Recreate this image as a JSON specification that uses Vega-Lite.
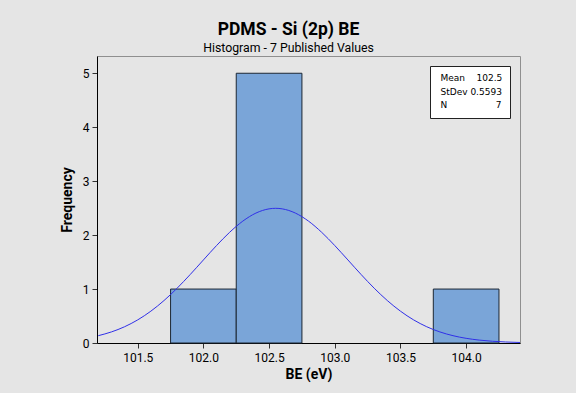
{
  "$schema": "https://vega.github.io/schema/vega-lite/v6.json",
  "width": 423,
  "height": 287,
  "autosize": {"type": "none"},
  "padding": {"left": 97, "top": 56, "right": 56, "bottom": 50},
  "background": "#e5e5e5",
  "title": {
    "text": "PDMS - Si (2p) BE",
    "subtitle": "Histogram - 7 Published Values",
    "anchor": "middle",
    "frame": "group",
    "dx": -20,
    "offset": 2,
    "font": "Roboto",
    "fontSize": 17.5,
    "fontWeight": "bold",
    "color": "#000000",
    "subtitleFont": "Roboto",
    "subtitleFontSize": 12.3,
    "subtitleColor": "#000000",
    "subtitlePadding": 3
  },
  "config": {
    "view": {"fill": "#ffffff", "stroke": "#8f8f8f", "strokeWidth": 1},
    "axis": {
      "domainColor": "#000000",
      "tickColor": "#333333",
      "tickSize": 5,
      "labelFont": "Roboto",
      "labelFontSize": 12,
      "labelColor": "#000000",
      "titleFont": "Roboto",
      "titleFontSize": 14,
      "titleFontWeight": "bold",
      "titleColor": "#000000",
      "grid": false
    },
    "legend": {
      "labelFont": "DejaVu Sans",
      "labelFontSize": 9,
      "labelColor": "#000000"
    }
  },
  "datasets": {
    "bins": [
      {"lo": 101.75, "hi": 102.25, "count": 1},
      {"lo": 102.25, "hi": 102.75, "count": 5},
      {"lo": 103.75, "hi": 104.25, "count": 1}
    ],
    "curve": [
      {"be": 101.2, "freq": 0.1356},
      {"be": 101.3, "freq": 0.2054},
      {"be": 101.4, "freq": 0.3015},
      {"be": 101.5, "freq": 0.4286},
      {"be": 101.6, "freq": 0.5901},
      {"be": 101.7, "freq": 0.7867},
      {"be": 101.8, "freq": 1.0160},
      {"be": 101.9, "freq": 1.2707},
      {"be": 102.0, "freq": 1.5395},
      {"be": 102.1, "freq": 1.8063},
      {"be": 102.2, "freq": 2.0527},
      {"be": 102.3, "freq": 2.2593},
      {"be": 102.4, "freq": 2.4084},
      {"be": 102.5, "freq": 2.4866},
      {"be": 102.55, "freq": 2.4966},
      {"be": 102.6, "freq": 2.4866},
      {"be": 102.7, "freq": 2.4084},
      {"be": 102.8, "freq": 2.2593},
      {"be": 102.9, "freq": 2.0527},
      {"be": 103.0, "freq": 1.8063},
      {"be": 103.1, "freq": 1.5395},
      {"be": 103.2, "freq": 1.2707},
      {"be": 103.3, "freq": 1.0160},
      {"be": 103.4, "freq": 0.7867},
      {"be": 103.5, "freq": 0.5901},
      {"be": 103.6, "freq": 0.4286},
      {"be": 103.7, "freq": 0.3015},
      {"be": 103.8, "freq": 0.2054},
      {"be": 103.9, "freq": 0.1356},
      {"be": 104.0, "freq": 0.0867},
      {"be": 104.1, "freq": 0.0537},
      {"be": 104.2, "freq": 0.0322},
      {"be": 104.3, "freq": 0.0187},
      {"be": 104.41, "freq": 0.0098}
    ],
    "stats": [
      {"label": "Mean\u00a0\u00a0\u00a0\u00a0102.5"},
      {"label": "StDev\u00a00.5593"},
      {"label": "N\u00a0\u00a0\u00a0\u00a0\u00a0\u00a0\u00a0\u00a0\u00a0\u00a0\u00a0\u00a0\u00a0\u00a0\u00a0\u00a0\u00a07"}
    ]
  },
  "layer": [
    {
      "data": {"name": "bins"},
      "mark": {"type": "rect", "fill": "#7aa5d8", "stroke": "#1c2733", "strokeWidth": 1},
      "encoding": {
        "x": {
          "field": "lo", "type": "quantitative",
          "scale": {"domain": [101.19, 104.41], "nice": false, "zero": false},
          "axis": {"title": "BE (eV)", "values": [101.5, 102.0, 102.5, 103.0, 103.5, 104.0], "format": ".1f", "labelPadding": 4, "titlePadding": 4}
        },
        "x2": {"field": "hi"},
        "y": {
          "field": "count", "type": "quantitative",
          "scale": {"domain": [0, 5.32], "nice": false},
          "axis": {"title": "Frequency", "values": [0, 1, 2, 3, 4, 5], "format": "d", "labelPadding": 3, "titlePadding": 8}
        },
        "y2": {"datum": 0}
      }
    },
    {
      "data": {"name": "curve"},
      "mark": {"type": "line", "color": "#3030e8", "strokeWidth": 1, "interpolate": "monotone", "clip": true},
      "encoding": {
        "x": {"field": "be", "type": "quantitative"},
        "y": {"field": "freq", "type": "quantitative"}
      }
    },
    {
      "data": {"name": "stats"},
      "mark": {"type": "point", "opacity": 0},
      "encoding": {
        "shape": {
          "field": "label", "type": "nominal",
          "scale": {"domain": ["Mean\u00a0\u00a0\u00a0\u00a0102.5", "StDev\u00a00.5593", "N\u00a0\u00a0\u00a0\u00a0\u00a0\u00a0\u00a0\u00a0\u00a0\u00a0\u00a0\u00a0\u00a0\u00a0\u00a0\u00a0\u00a07"]},
          "legend": {
            "title": null,
            "orient": "top-right",
            "offset": 10,
            "symbolSize": 0,
            "symbolOpacity": 0,
            "symbolStrokeWidth": 0,
            "labelOffset": -6,
            "rowPadding": 3.5,
            "padding": 7.5,
            "strokeColor": "#222222",
            "fillColor": "#ffffff"
          }
        }
      }
    }
  ]
}
